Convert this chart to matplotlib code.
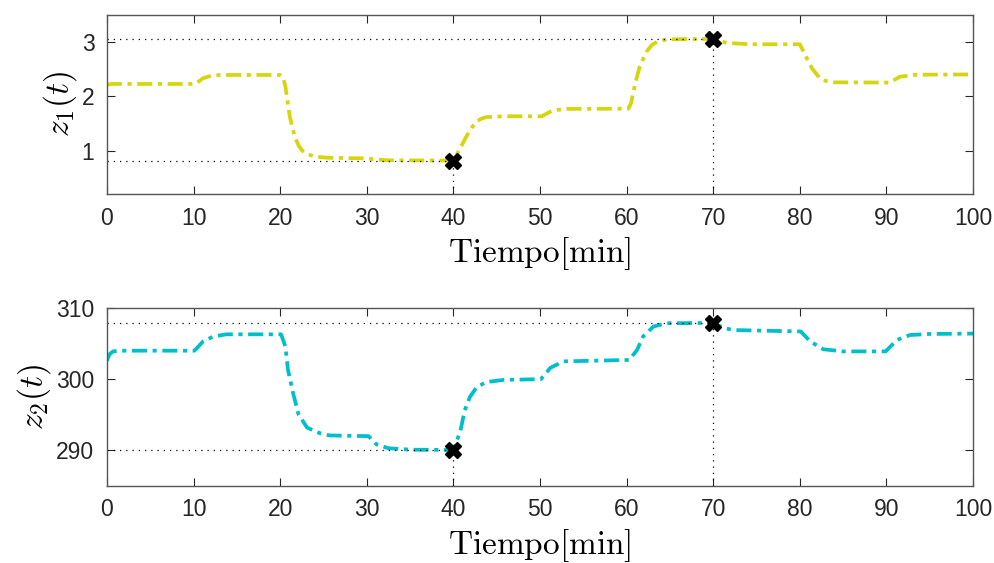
import matplotlib.pyplot as plt

plt.rcParams['font.family'] = ['Liberation Sans', 'DejaVu Sans']
plt.rcParams['mathtext.fontset'] = 'cm'

# z1(t)
t1 = [0, 0.5, 10.2, 11.1, 12.0, 13.0, 20.0, 20.3, 20.6, 21.1, 21.7, 22.2, 22.6, 23.2, 23.8,
      24.8, 25.7, 30.0, 31.0, 32.5, 40.0, 40.6, 41.5, 42.2, 42.7, 43.3, 43.8, 45.8, 50.2,
      51.5, 53.1, 60.2, 60.5, 61.0, 61.5, 62.3, 62.9, 63.5, 64.6, 70.0, 70.8, 71.6, 74.2,
      80.0, 80.6, 81.4, 82.3, 83.0, 83.8, 90.3, 91.0, 91.6, 93.5, 100]
z1 = [2.21, 2.225, 2.225, 2.33, 2.375, 2.39, 2.39, 2.36, 2.18, 1.63, 1.24, 1.07, 0.99, 0.93, 0.90,
      0.875, 0.866, 0.855, 0.835, 0.82, 0.815, 0.99, 1.26, 1.44, 1.54, 1.59, 1.615, 1.63, 1.63,
      1.74, 1.765, 1.77, 1.87, 2.24, 2.54, 2.82, 2.94, 3.0, 3.045, 3.055, 3.01, 2.98, 2.955,
      2.955, 2.76, 2.51, 2.33, 2.28, 2.255, 2.25, 2.31, 2.36, 2.395, 2.40]

# z2(t)
t2 = [0, 0.3, 0.7, 1.5, 10.1, 11.1, 12.3, 13.8, 20.1, 20.6, 20.9, 21.5, 22.1, 23.1, 24.6,
      25.7, 30.2, 31.1, 32.5, 35.0, 40.0, 40.8, 41.3, 41.9, 42.7, 43.8, 45.8, 50.1, 51.2,
      52.7, 60.3, 61.2, 61.9, 63.1, 64.6, 70.0, 71.2, 72.3, 80.1, 81.2, 82.7, 85.0, 89.9,
      91.2, 92.7, 95.0, 100]
z2 = [302.6, 303.5, 303.9, 304.0, 304.0, 305.3, 306.0, 306.3, 306.3, 304.6, 301.3, 298.0, 295.1,
      293.2, 292.4, 292.1, 292.0, 290.85, 290.3, 290.1, 290.05, 292.7, 295.6, 297.5, 298.9,
      299.6, 299.9, 300.0, 301.6, 302.5, 302.7, 304.1, 306.0, 307.4, 307.85, 307.9, 307.2,
      306.9, 306.7, 305.3, 304.2, 303.9, 303.9, 305.5, 306.2, 306.35, 306.4]

# extrema marked on each plot
mark_t = [40, 70]
mark_z1 = [0.81, 3.055]
mark_z2 = [290.05, 307.9]

xticks = [0, 10, 20, 30, 40, 50, 60, 70, 80, 90, 100]

fig = plt.figure(figsize=(9.95, 5.63), dpi=100)
ax1 = fig.add_axes([0.1075, 0.6554, 0.8705, 0.3186])
ax2 = fig.add_axes([0.1075, 0.1368, 0.8705, 0.3162])

setups = [
    (ax1, t1, z1, mark_z1, '#d6d60f', (0.2, 3.5), [1, 2, 3], r'$z_1(t)$'),
    (ax2, t2, z2, mark_z2, '#00bfcc', (285, 310), [290, 300, 310], r'$z_2(t)$'),
]

for ax, t, z, mz, col, ylim, yticks, ylab in setups:
    ax.plot(t, z, color=col, lw=2.7, linestyle=(0, (4.0, 1.5, 1.1, 1.5)))
    for mt, mv in zip(mark_t, mz):
        ax.plot([0, mt], [mv, mv], color='black', lw=0.9, linestyle=(0, (1, 4)))
        ax.plot([mt, mt], [ylim[0], mv], color='black', lw=0.9, linestyle=(0, (1, 4)))
    ax.plot(mark_t, mz, linestyle='none', marker='X', markersize=11,
            color='black', markeredgecolor='black')
    ax.set_xlim(0, 100)
    ax.set_ylim(*ylim)
    ax.set_xticks(xticks)
    ax.set_yticks(yticks)
    ax.tick_params(direction='in', length=6, width=0.8, labelsize=16.5,
                   top=True, right=True, color='#262626', labelcolor='#262626', pad=9)
    for s in ax.spines.values():
        s.set_color('#555555')
        s.set_linewidth(1.0)
    ax.set_xlabel(r'$\mathrm{Tiempo[min]}$', fontsize=24, labelpad=4)
    ax.set_ylabel(ylab, fontsize=24, labelpad=2)

fig.savefig('out.png', dpi=100)
